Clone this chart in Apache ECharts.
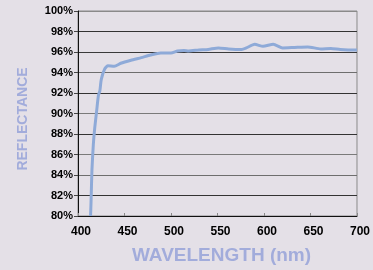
<!DOCTYPE html>
<html>
<head>
<meta charset="utf-8">
<script src="https://cdn.jsdelivr.net/npm/echarts@6/dist/echarts.min.js"></script>
<style>
  html, body { margin: 0; padding: 0; background: #e4e0e7; }
  #chart { width: 373px; height: 270px; }
</style>
</head>
<body>
<div id="chart"></div>
<script>
// wavelength (nm) / reflectance (%)
const wavelength = [413.5, 414, 415, 416.5, 418, 420, 422, 423.5, 425, 428.5, 432, 439, 446, 457, 468, 478, 489, 500, 507, 514, 519, 530, 540, 551, 562, 576, 581, 590, 599, 610, 620, 633, 647, 661, 672, 682, 698, 700];
const reflectance = [80, 81.3, 84.5, 87, 88.6, 90.2, 91.8, 92.2, 93.3, 94.3, 94.65, 94.6, 94.9, 95.2, 95.45, 95.7, 95.9, 95.9, 96.1, 96.15, 96.1, 96.2, 96.25, 96.4, 96.3, 96.25, 96.4, 96.75, 96.55, 96.75, 96.4, 96.45, 96.5, 96.3, 96.35, 96.25, 96.2, 96.2];

// gridline shades, from 80% up to 100%
const gridShades = ['#222', '#333', '#6e6e6e', '#7a7a7a', '#333', '#7a7a7a', '#333', '#6e6e6e', '#3a3a3a', '#333', '#8a8a8a'];

const FONT = 'Liberation Sans, Arial, sans-serif';
const TITLE_COLOR = '#a2acdb';

const chart = echarts.init(document.getElementById('chart'));

chart.setOption({
  backgroundColor: '#e4e0e7',
  animation: false,
  grid: {
    left: 78, right: 13, top: 11, bottom: 50,
    show: true, borderColor: '#8a8a8a', borderWidth: 1
  },
  xAxis: {
    type: 'value',
    min: 400, max: 700, interval: 50,
    name: 'WAVELENGTH (nm)',
    nameLocation: 'middle',
    nameGap: 30,
    nameTextStyle: { color: TITLE_COLOR, fontFamily: FONT, fontWeight: 'bold', fontSize: 19, padding: [0, 0, 0, 8] },
    axisLine: { lineStyle: { color: '#111', width: 1 } },
    axisTick: { show: true, inside: true, length: 3, lineStyle: { color: '#888' } },
    axisLabel: { color: '#000', fontFamily: FONT, fontWeight: 'bold', fontSize: 12, margin: 10, padding: [0, 0, 0, 6] },
    splitLine: { show: false }
  },
  yAxis: {
    type: 'value',
    min: 80, max: 100, interval: 2,
    name: 'REFLECTANCE',
    nameLocation: 'middle',
    nameGap: 48,
    nameTextStyle: { color: TITLE_COLOR, fontFamily: FONT, fontWeight: 'bold', fontSize: 14, padding: [0, 11, 0, 0] },
    axisLine: { show: true, lineStyle: { color: '#111', width: 1 } },
    axisTick: { show: true, length: 4, lineStyle: { color: '#444' } },
    axisLabel: { color: '#000', fontFamily: FONT, fontWeight: 'bold', fontSize: 11, margin: 5, formatter: '{value}%', padding: [8, 0, 0, 0] },
    splitLine: { show: true, lineStyle: { color: gridShades, width: 1 } }
  },
  series: [{
    type: 'line',
    data: wavelength.map((w, i) => [w, reflectance[i]]),
    showSymbol: false,
    smooth: 0.2,
    lineStyle: { color: '#8eaad8', width: 3 },
    clip: true
  }]
});
</script>
</body>
</html>
